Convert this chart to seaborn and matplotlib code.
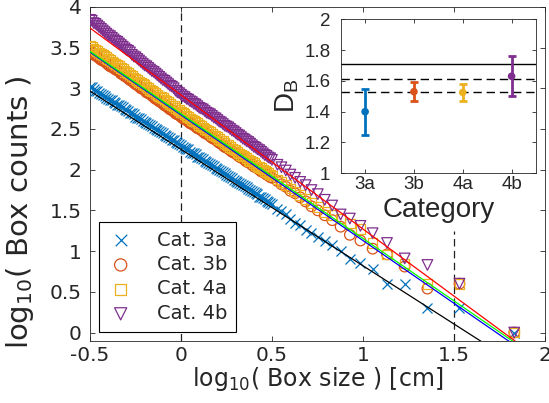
import numpy as np
import pandas as pd
import matplotlib
matplotlib.use("Agg")
import matplotlib.pyplot as plt
import seaborn as sns

# ---------------- data ----------------
log_box_size = [
    -0.50, -0.49, -0.48, -0.47, -0.46, -0.45, -0.44, -0.43, -0.42, -0.41,
    -0.40, -0.39, -0.38, -0.37, -0.36, -0.35, -0.34, -0.33, -0.32, -0.31,
    -0.30, -0.29, -0.28, -0.27, -0.26, -0.25, -0.24, -0.23, -0.22, -0.21,
    -0.20, -0.19, -0.18, -0.17, -0.16, -0.15, -0.14, -0.13, -0.12, -0.11,
    -0.10, -0.09, -0.08, -0.07, -0.06, -0.05, -0.04, -0.03, -0.02, -0.01,
    0.00, 0.01, 0.02, 0.03, 0.04, 0.05, 0.06, 0.07, 0.08, 0.09,
    0.10, 0.11, 0.12, 0.13, 0.14, 0.15, 0.16, 0.17, 0.18, 0.19,
    0.20, 0.21, 0.22, 0.23, 0.24, 0.25, 0.26, 0.27, 0.28, 0.29,
    0.30, 0.31, 0.32, 0.33, 0.34, 0.35, 0.36, 0.37, 0.38, 0.39,
    0.40, 0.41, 0.42, 0.43, 0.44, 0.45, 0.46, 0.47, 0.48, 0.49,
    0.50,
    0.530, 0.552, 0.576, 0.601, 0.627, 0.655, 0.685, 0.717, 0.752, 0.790,
    0.831, 0.877, 0.928, 0.986, 1.053, 1.132, 1.229, 1.354, 1.530, 1.831,
]

log_count_3a = [
    3.02, 3.01, 2.99, 2.97, 2.97, 2.94, 2.93, 2.92, 2.91, 2.88,
    2.87, 2.86, 2.85, 2.83, 2.82, 2.80, 2.79, 2.78, 2.77, 2.74,
    2.73, 2.72, 2.70, 2.69, 2.68, 2.65, 2.64, 2.63, 2.62, 2.60,
    2.59, 2.57, 2.56, 2.55, 2.54, 2.51, 2.50, 2.49, 2.47, 2.46,
    2.45, 2.42, 2.41, 2.40, 2.39, 2.37, 2.36, 2.34, 2.33, 2.32,
    2.30, 2.28, 2.27, 2.26, 2.25, 2.22, 2.21, 2.20, 2.19, 2.16,
    2.15, 2.14, 2.13, 2.11, 2.10, 2.08, 2.07, 2.06, 2.05, 2.02,
    2.01, 2.00, 1.98, 1.97, 1.96, 1.93, 1.92, 1.91, 1.90, 1.87,
    1.86, 1.85, 1.84, 1.82, 1.81, 1.80, 1.79, 1.76, 1.75, 1.74,
    1.72, 1.71, 1.70, 1.67, 1.66, 1.65, 1.64, 1.61, 1.60, 1.59,
    1.58,
    1.52, 1.49, 1.45, 1.40, 1.35, 1.32, 1.26, 1.22, 1.17, 1.12,
    1.07, 1.00, 0.90, 0.85, 0.78, 0.60, 0.60, 0.30, 0.30, 0.00,
]
log_count_3b = [
    3.45, 3.44, 3.42, 3.40, 3.39, 3.37, 3.35, 3.34, 3.33, 3.31,
    3.29, 3.27, 3.26, 3.25, 3.23, 3.22, 3.21, 3.18, 3.17, 3.15,
    3.14, 3.12, 3.10, 3.09, 3.07, 3.05, 3.04, 3.02, 3.00, 2.99,
    2.98, 2.95, 2.94, 2.93, 2.91, 2.89, 2.87, 2.86, 2.84, 2.83,
    2.81, 2.79, 2.78, 2.76, 2.74, 2.73, 2.72, 2.69, 2.68, 2.67,
    2.65, 2.63, 2.62, 2.61, 2.59, 2.57, 2.56, 2.55, 2.53, 2.51,
    2.50, 2.49, 2.47, 2.45, 2.44, 2.43, 2.41, 2.39, 2.38, 2.37,
    2.35, 2.33, 2.32, 2.30, 2.28, 2.27, 2.26, 2.24, 2.22, 2.21,
    2.20, 2.18, 2.16, 2.15, 2.14, 2.12, 2.10, 2.09, 2.08, 2.06,
    2.04, 2.03, 2.02, 2.00, 1.98, 1.97, 1.96, 1.94, 1.93, 1.91,
    1.90,
    1.86, 1.82, 1.79, 1.74, 1.71, 1.66, 1.61, 1.55, 1.50, 1.44,
    1.38, 1.30, 1.20, 1.13, 1.03, 0.96, 0.81, 0.54, 0.60, 0.00,
]
log_count_4a = [
    3.52, 3.51, 3.49, 3.47, 3.46, 3.44, 3.42, 3.41, 3.40, 3.38,
    3.36, 3.35, 3.33, 3.31, 3.30, 3.29, 3.27, 3.25, 3.24, 3.22,
    3.20, 3.19, 3.17, 3.15, 3.13, 3.12, 3.10, 3.08, 3.07, 3.05,
    3.04, 3.02, 3.00, 2.98, 2.97, 2.96, 2.94, 2.92, 2.90, 2.89,
    2.88, 2.86, 2.84, 2.83, 2.81, 2.79, 2.78, 2.76, 2.74, 2.73,
    2.71, 2.70, 2.68, 2.66, 2.65, 2.63, 2.61, 2.60, 2.59, 2.57,
    2.55, 2.54, 2.52, 2.50, 2.49, 2.48, 2.46, 2.44, 2.42, 2.41,
    2.40, 2.38, 2.36, 2.35, 2.33, 2.31, 2.30, 2.28, 2.26, 2.25,
    2.24, 2.22, 2.20, 2.18, 2.17, 2.16, 2.14, 2.12, 2.11, 2.10,
    2.08, 2.06, 2.04, 2.03, 2.02, 2.00, 1.98, 1.97, 1.96, 1.94,
    1.93,
    1.88, 1.85, 1.81, 1.77, 1.73, 1.69, 1.64, 1.59, 1.54, 1.48,
    1.44, 1.40, 1.34, 1.27, 1.10, 0.96, 0.85, 0.60, 0.60, 0.00,
]
log_count_4b = [
    3.84, 3.83, 3.80, 3.79, 3.77, 3.75, 3.73, 3.71, 3.69, 3.67,
    3.65, 3.64, 3.62, 3.60, 3.58, 3.57, 3.55, 3.53, 3.51, 3.49,
    3.47, 3.46, 3.44, 3.41, 3.39, 3.38, 3.36, 3.34, 3.32, 3.30,
    3.28, 3.27, 3.25, 3.23, 3.21, 3.20, 3.18, 3.16, 3.14, 3.12,
    3.10, 3.09, 3.07, 3.05, 3.03, 3.02, 3.00, 2.97, 2.95, 2.94,
    2.92, 2.90, 2.89, 2.87, 2.86, 2.84, 2.83, 2.81, 2.80, 2.78,
    2.76, 2.75, 2.74, 2.72, 2.70, 2.69, 2.68, 2.66, 2.64, 2.63,
    2.61, 2.59, 2.58, 2.56, 2.54, 2.53, 2.52, 2.50, 2.48, 2.47,
    2.45, 2.43, 2.42, 2.40, 2.38, 2.37, 2.35, 2.34, 2.32, 2.30,
    2.28, 2.27, 2.25, 2.24, 2.22, 2.20, 2.18, 2.17, 2.15, 2.14,
    2.12,
    2.06, 2.03, 1.99, 1.94, 1.90, 1.85, 1.81, 1.75, 1.70, 1.63,
    1.56, 1.45, 1.40, 1.31, 1.22, 1.10, 0.91, 0.83, 0.60, 0.00,
]

series_labels = ["Cat. 3a", "Cat. 3b", "Cat. 4a", "Cat. 4b"]
series_colors = ["#0072BD", "#D95319", "#EDB120", "#7E2F8E"]
series_markers = ["x", "o", "s", "v"]

# fitted power-law lines (intercept, slope) in log-log space
fit_intercept = [2.25, 2.672, 2.687, 2.917]
fit_slope = [-1.43, -1.542, -1.532, -1.646]
fit_colors = ["#000000", "#0000FF", "#00FF00", "#FF0000"]

# vertical guides: x position and upper end
guide_x = [0.0, 1.5]
guide_top = [4.0, 1.25]

# inset: box-counting dimension per category
inset_categories = ["3a", "3b", "4a", "4b"]
db_mean = [1.40, 1.53, 1.525, 1.63]
db_err = [0.15, 0.06, 0.055, 0.13]
db_ref_solid = [1.71]
db_ref_dashed = [1.614, 1.526]

# ---------------- styling ----------------
sns.set_style("ticks")
plt.rcParams.update({
    "font.family": ["DejaVu Sans"],
    "axes.unicode_minus": False,
    "mathtext.fontset": "dejavusans",
    "xtick.direction": "in",
    "ytick.direction": "in",
    "xtick.top": True,
    "ytick.right": True,
    "axes.edgecolor": "#262626",
    "axes.linewidth": 0.6,
    "xtick.color": "#262626",
    "ytick.color": "#262626",
    "xtick.major.size": 3.6,
    "ytick.major.size": 3.6,
    "xtick.major.width": 0.6,
    "ytick.major.width": 0.6,
    "text.color": "#262626",
    "axes.labelcolor": "#262626",
})

fig = plt.figure(figsize=(5.49, 4.03), dpi=100)
ax = fig.add_axes([0.1639, 0.1546, 0.8288, 0.8285])

for gx, gt in zip(guide_x, guide_top):
    sns.lineplot(x=[gx, gx], y=[-0.1, gt], color="#202020", lw=0.9,
                 ax=ax, zorder=1, estimator=None, sort=False)
for ln in ax.get_lines():
    ln.set_linestyle((0, (6, 3.5)))

series_y = [log_count_3a, log_count_3b, log_count_4a, log_count_4b]
handles = []
for ys, lab, col, mk in zip(series_y, series_labels, series_colors, series_markers):
    if mk == "x":
        kw = dict(color=col, linewidth=0.9, s=52)
    else:
        kw = dict(color=col, facecolor="none", edgecolor=col, linewidth=0.9,
                  s=58 if mk != "s" else 48)
    sns.scatterplot(x=log_box_size, y=ys, marker=mk, ax=ax, label=lab,
                    zorder=3, legend=False, **kw)
    handles.append(ax.collections[-1])

x_ends = [-0.5, 2.0]
for b0, b1, col in zip(fit_intercept, fit_slope, fit_colors):
    sns.lineplot(x=x_ends, y=[b0 + b1 * x_ends[0], b0 + b1 * x_ends[1]],
                 color=col, lw=0.9, ax=ax, zorder=4, estimator=None, sort=False)

ax.set_xlim(-0.5, 2.0)
ax.set_ylim(-0.1, 4.0)
ax.set_xticks([-0.5, 0, 0.5, 1, 1.5, 2])
ax.set_xticklabels(["-0.5", "0", "0.5", "1", "1.5", "2"])
ax.set_yticks([0, 0.5, 1, 1.5, 2, 2.5, 3, 3.5, 4])
ax.set_yticklabels(["0", "0.5", "1", "1.5", "2", "2.5", "3", "3.5", "4"])
ax.tick_params(axis="both", labelsize=14.5)
ax.tick_params(axis="x", pad=4)
ax.tick_params(axis="y", pad=6)
ax.set_xlabel(r"log$_{\mathregular{10}}$( Box size ) [cm]", fontsize=17, labelpad=0)
ax.set_ylabel(r"log$_{\mathregular{10}}$( Box counts )", fontsize=21)
ax.yaxis.set_label_coords(-0.118, 0.385)
for sp in ax.spines.values():
    sp.set_visible(True)

leg = ax.legend(handles, series_labels, loc="lower left",
                bbox_to_anchor=(0.0198, 0.027), borderaxespad=0,
                frameon=True, fancybox=False, edgecolor="black",
                framealpha=1, fontsize=14, scatterpoints=1,
                handlelength=1.33, handletextpad=1.2, labelspacing=0.28,
                borderpad=0.45, markerscale=1.15)
leg.get_frame().set_linewidth(0.8)
leg.set_zorder(5)

# ---------------- inset ----------------
ax2 = fig.add_axes([0.6206, 0.5700, 0.3557, 0.3821])
ax2.set_facecolor("white")
ifont = "Liberation Sans"
for yv in db_ref_solid:
    ax2.axhline(yv, color="black", lw=1.0, zorder=1)
for yv in db_ref_dashed:
    ax2.axhline(yv, color="black", lw=1.0, zorder=1, linestyle=(0, (6, 3.5)))

sns.scatterplot(x=inset_categories, y=db_mean, hue=inset_categories,
                palette=series_colors, s=30, edgecolor="none",
                ax=ax2, legend=False, zorder=3)
for i, (m, e, col) in enumerate(zip(db_mean, db_err, series_colors)):
    ax2.errorbar([inset_categories[i]], [m], yerr=[e], fmt="none",
                 ecolor=col, elinewidth=2.0, capsize=2.6, capthick=2.0, zorder=2)

ax2.set_xlim(-0.5, 3.5)
ax2.set_ylim(1.0, 2.0)
ax2.set_yticks([1.0, 1.2, 1.4, 1.6, 1.8, 2.0])
ax2.set_yticklabels(["1", "1.2", "1.4", "1.6", "1.8", "2"], fontfamily=ifont)
ax2.set_xticks(range(4))
ax2.set_xticklabels(inset_categories, fontfamily=ifont)
ax2.tick_params(axis="both", labelsize=13.5, length=3.0)
ax2.tick_params(axis="y", pad=7.5)
ax2.tick_params(axis="x", pad=2.3)
ax2.set_xlabel("Category", fontsize=20, fontfamily=ifont, labelpad=2.5)
ax2.set_ylabel(r"D$_{\mathregular{B}}$", fontsize=20, fontfamily=ifont, labelpad=2)
for sp in ax2.spines.values():
    sp.set_visible(True)

fig.savefig("out.png", dpi=100, facecolor="white")
